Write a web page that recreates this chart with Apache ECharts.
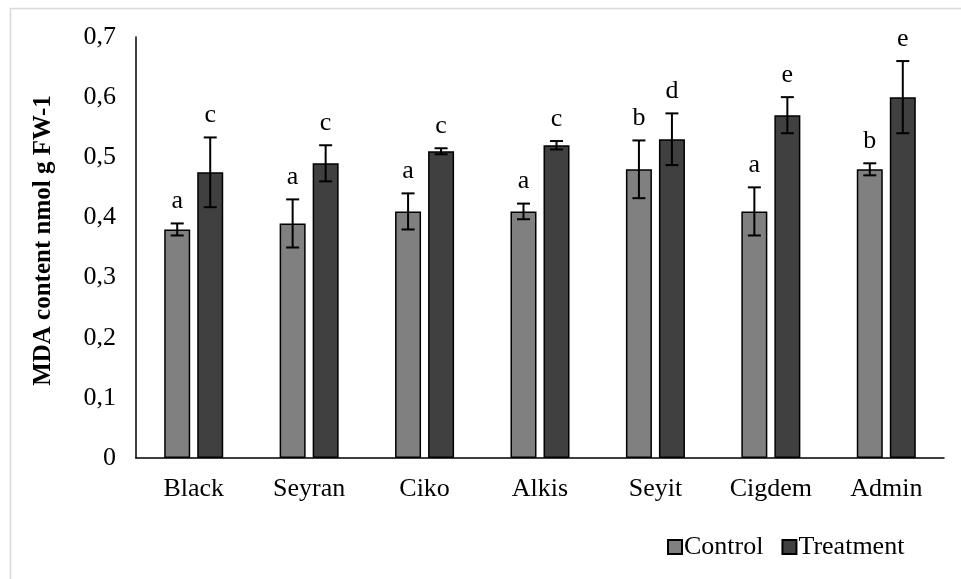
<!DOCTYPE html>
<html>
<head>
<meta charset="utf-8">
<script src="https://cdn.jsdelivr.net/npm/echarts@6/dist/echarts.min.js"></script>
<style>
html,body{margin:0;padding:0;background:#fff;}
#chart{width:961px;height:579px;}
</style>
</head>
<body>
<div id="chart"></div>
<script>
const categories = ['Black', 'Seyran', 'Ciko', 'Alkis', 'Seyit', 'Cigdem', 'Admin'];
const controlValues = [0.38, 0.39, 0.41, 0.41, 0.48, 0.41, 0.48];
const controlErrors = [0.01, 0.04, 0.03, 0.013, 0.048, 0.04, 0.01];
const controlLetters = ['a', 'a', 'a', 'a', 'b', 'a', 'b'];
const treatmentValues = [0.475, 0.49, 0.51, 0.52, 0.53, 0.57, 0.60];
const treatmentErrors = [0.058, 0.03, 0.005, 0.007, 0.043, 0.03, 0.06];
const treatmentLetters = ['c', 'c', 'c', 'c', 'd', 'e', 'e'];
const yTicks = [0, 0.1, 0.2, 0.3, 0.4, 0.5, 0.6, 0.7];

const FONT = '"Liberation Serif", "Times New Roman", serif';
const chart = echarts.init(document.getElementById('chart'));

function errData(vals, errs, letters) {
  return vals.map((v, i) => [i, v + errs[i], v - errs[i], letters[i]]);
}
function makeErr(offset) {
  return function (params, api) {
    const i = api.value(0);
    const hi = api.coord([i, api.value(1)]);
    const lo = api.coord([i, api.value(2)]);
    const x = hi[0] + offset;
    const cw = 6.5;
    const st = { stroke: '#000', lineWidth: 2 };
    return {
      type: 'group',
      children: [
        { type: 'line', shape: { x1: x, y1: hi[1], x2: x, y2: lo[1] }, style: st },
        { type: 'line', shape: { x1: x - cw, y1: hi[1], x2: x + cw, y2: hi[1] }, style: st },
        { type: 'line', shape: { x1: x - cw, y1: lo[1], x2: x + cw, y2: lo[1] }, style: st },
        { type: 'text', x: x, y: hi[1] - 9,
          style: { text: api.value(3), fill: '#000', font: '26px ' + FONT, textAlign: 'center', textVerticalAlign: 'bottom' } }
      ]
    };
  };
}

const option = {
  animation: false,
  backgroundColor: '#fff',
  graphic: [{
    type: 'rect', left: 8, top: 6, shape: { width: 1000, height: 1000 },
    style: { fill: 'none', stroke: '#d9d9d9', lineWidth: 1.5 }, silent: true
  }],
  grid: { left: 136, right: 17, top: 37, bottom: 121 },
  legend: {
    left: 662, top: 529,
    icon: 'rect', itemWidth: 14, itemHeight: 14, itemGap: 18,
    textStyle: { fontFamily: FONT, fontSize: 26, color: '#000', padding: [0, 0, 0, -3] },
    data: ['Control', 'Treatment']
  },
  xAxis: {
    type: 'category',
    data: categories,
    axisLine: { lineStyle: { color: '#000', width: 1.5 } },
    axisTick: { show: false },
    axisLabel: { fontFamily: FONT, fontSize: 26, color: '#000', margin: 18 }
  },
  yAxis: {
    type: 'value',
    min: 0, max: 0.7, interval: 0.1,
    name: 'MDA content nmol g FW-1',
    nameLocation: 'middle',
    nameRotate: 90,
    nameGap: 80,
    nameTextStyle: { fontFamily: FONT, fontSize: 25, fontWeight: 'bold', color: '#000', padding: [0, 0, 0, 14] },
    axisLine: { show: true, lineStyle: { color: '#000', width: 1.5 } },
    axisTick: { show: false },
    splitLine: { show: false },
    axisLabel: {
      fontFamily: FONT, fontSize: 26, color: '#000', margin: 20,
      formatter: v => {
        const t = yTicks.find(k => Math.abs(k - v) < 1e-9);
        return t === 0 ? '0' : (t !== undefined ? t.toFixed(1).replace('.', ',') : '');
      }
    }
  },
  series: [
    {
      name: 'Control', type: 'bar', data: controlValues,
      barWidth: 26, barGap: '27%',
      itemStyle: { color: '#808080', borderColor: '#000', borderWidth: 1.5 }
    },
    {
      name: 'Treatment', type: 'bar', data: treatmentValues,
      barWidth: 26,
      itemStyle: { color: '#404040', borderColor: '#000', borderWidth: 1.5 }
    },
    {
      type: 'custom', renderItem: makeErr(-16.5),
      data: errData(controlValues, controlErrors, controlLetters), z: 10, silent: true
    },
    {
      type: 'custom', renderItem: makeErr(16.5),
      data: errData(treatmentValues, treatmentErrors, treatmentLetters), z: 10, silent: true
    }
  ]
};
chart.setOption(option);
</script>
</body>
</html>
